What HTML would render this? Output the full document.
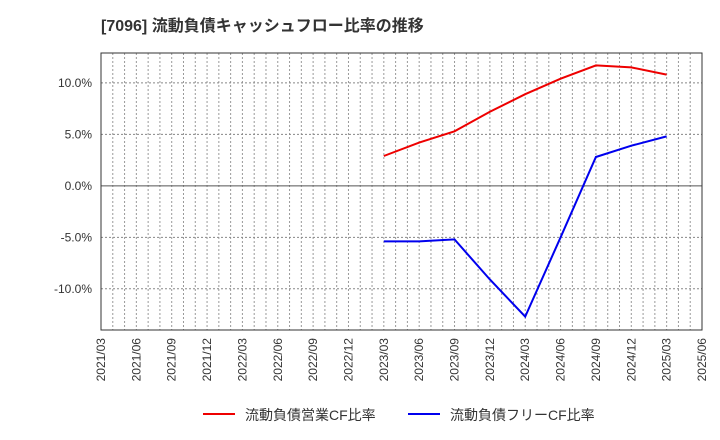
<!DOCTYPE html>
<html><head><meta charset="utf-8"><style>
body{margin:0;background:#fff;font-family:"Liberation Sans","Noto Sans CJK JP",sans-serif;}
</style></head><body>
<svg id="chart" width="720" height="440" xmlns="http://www.w3.org/2000/svg" style="display:block">
<text x="101" y="31" font-size="16" font-weight="bold" fill="#333" font-family="Liberation Sans, Noto Sans CJK JP, sans-serif">[7096]  流動負債キャッシュフロー比率の推移</text>
<g id="grid"></g>
<g id="axes"></g>
<g id="series"></g>
<g font-size="14" fill="#333">
<line x1="203" y1="414" x2="235" y2="414" stroke="#e00" stroke-width="2"/>
<text x="245" y="420" fill="#333">流動負債営業CF比率</text>
<line x1="408" y1="414" x2="440" y2="414" stroke="#00e" stroke-width="2"/>
<text x="450" y="420" fill="#333">流動負債フリーCF比率</text>
</g>
</svg>
<script>
const xLabels=["2021/03","2021/06","2021/09","2021/12","2022/03","2022/06","2022/09","2022/12","2023/03","2023/06","2023/09","2023/12","2024/03","2024/06","2024/09","2024/12","2025/03","2025/06"];
const yTicks=[10,5,0,-5,-10];
const seriesStart=8;
const operatingCF=[2.9,4.2,5.3,7.2,8.9,10.4,11.7,11.5,10.8];
const freeCF=[-5.4,-5.4,-5.2,-9.1,-12.7,-5.0,2.8,3.9,4.8];
const L=101,R=702,T=53,B=330,yMax=12.9,yMin=-14.0;
const ns="http://www.w3.org/2000/svg";
const qw=(R-L)/(xLabels.length-1);
const xs=i=>L+i*qw;
const ys=v=>T+(yMax-v)/(yMax-yMin)*(B-T);
function mk(tag,attrs,parent){const e=document.createElementNS(ns,tag);for(const k in attrs)e.setAttribute(k,attrs[k]);parent.appendChild(e);return e;}
const grid=document.getElementById('grid'),axes=document.getElementById('axes'),series=document.getElementById('series');
for(let m=1;m<(xLabels.length-1)*3;m++){const x=L+m*qw/3;
const l=mk('line',{x1:x,x2:x,y1:T,y2:B,stroke:'#999','stroke-dasharray':'2,2','stroke-width':1},grid);

}
yTicks.forEach(v=>{const y=ys(v);
const l=mk('line',{x1:L,x2:R,y1:y,y2:y,stroke:v===0?'#555':'#888','stroke-dasharray':v===0?'none':'2,2','stroke-width':1},grid);


const t=mk('text',{x:L-9,y:y+4,'text-anchor':'end','font-size':12,fill:'#333'},axes);t.textContent=v.toFixed(1)+'%';

});
const fr=mk('rect',{x:L,y:T,width:R-L,height:B-T,fill:'none',stroke:'#333','stroke-width':1},axes);


xLabels.forEach((s,i)=>{const x=xs(i);
const t=mk('text',{x:0,y:0,'text-anchor':'end','font-size':12,fill:'#333',transform:`translate(${x+4},${B+8}) rotate(-90)`},axes);t.textContent=s;

});
function line(vals,color,name){const p=vals.map((v,i)=>xs(seriesStart+i).toFixed(1)+','+ys(v).toFixed(1)).join(' ');
const e=mk('polyline',{points:p,fill:'none',stroke:color,'stroke-width':2},series);

}
line(operatingCF,'#e00','operating-cf-line');
line(freeCF,'#00e','free-cf-line');
</script>
</body></html>
